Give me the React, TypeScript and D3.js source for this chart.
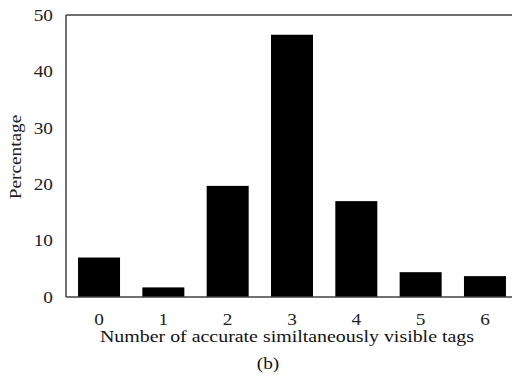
import React, { useRef, useEffect } from "react";
import * as d3 from "d3";

const categories = ["0", "1", "2", "3", "4", "5", "6"];
const percentages = [7.0, 1.7, 19.7, 46.5, 17.0, 4.4, 3.7];
const yTicks = [0, 10, 20, 30, 40, 50];

const App = () => {
  const svgRef = useRef<SVGSVGElement>(null);

  useEffect(() => {
    const width = 512;
    const height = 376;
    const margin = { top: 15, right: -6, bottom: 79, left: 66 };
    const innerW = width - margin.left - margin.right;
    const innerH = height - margin.top - margin.bottom;
    const font = "'Liberation Serif', 'Times New Roman', serif";
    const stretch = 1.17; // text in the original is a bit wide

    const svg = d3.select(svgRef.current);
    svg.selectAll("*").remove();
    svg.attr("width", width).attr("height", height);

    const g = svg
      .append("g")
      .attr("transform", `translate(${margin.left}, ${margin.top})`);

    const x = d3
      .scaleBand()
      .domain(categories)
      .range([0, innerW])
      .paddingInner(0.347)
      .paddingOuter(0.187);
    const y = d3.scaleLinear().domain([0, 50]).range([innerH, 0]);

    // bars
    g.selectAll(".bar")
      .data(percentages)
      .enter()
      .append("rect")
      .attr("class", "bar")
      .attr("x", (_d, i) => x(categories[i]) as number)
      .attr("y", (d) => y(d))
      .attr("width", x.bandwidth())
      .attr("height", (d) => innerH - y(d))
      .attr("fill", "#000");

    // frame lines: left, top, bottom
    const lineColor = "#404040";
    g.append("line")
      .attr("x1", 0).attr("x2", 0).attr("y1", 0).attr("y2", innerH)
      .attr("stroke", lineColor).attr("stroke-width", 1.5);
    g.append("line")
      .attr("x1", 0).attr("x2", innerW).attr("y1", 0).attr("y2", 0)
      .attr("stroke", lineColor).attr("stroke-width", 1.5);
    g.append("line")
      .attr("x1", 0).attr("x2", innerW).attr("y1", innerH).attr("y2", innerH)
      .attr("stroke", lineColor).attr("stroke-width", 1.5);

    // y tick labels
    g.selectAll(".ytick")
      .data(yTicks)
      .enter()
      .append("text")
      .attr("transform", (d) => `translate(-13, ${y(d)}) scale(${stretch}, 1)`)
      .attr("dy", "0.35em")
      .attr("text-anchor", "end")
      .attr("font-family", font)
      .attr("font-size", 16.5)
      .attr("fill", "#222")
      .text((d) => d);

    // x tick labels
    g.selectAll(".xtick")
      .data(categories)
      .enter()
      .append("text")
      .attr(
        "transform",
        (d) =>
          `translate(${(x(d) as number) + x.bandwidth() / 2}, ${innerH + 28}) scale(${stretch}, 1)`
      )
      .attr("text-anchor", "middle")
      .attr("font-family", font)
      .attr("font-size", 16.5)
      .attr("fill", "#222")
      .text((d) => d);

    // axis titles
    svg.append("text")
      .attr("x", 100)
      .attr("y", 342)
      .attr("textLength", 374)
      .attr("lengthAdjust", "spacingAndGlyphs")
      .attr("font-family", font)
      .attr("font-size", 16.5)
      .attr("fill", "#111")
      .text("Number  of accurate similtaneously visible tags");

    svg.append("text")
      .attr("transform", `translate(268, 369) scale(${stretch}, 1)`)
      .attr("text-anchor", "middle")
      .attr("font-family", font)
      .attr("font-size", 16.5)
      .attr("fill", "#111")
      .text("(b)");

    svg.append("text")
      .attr("transform", `translate(21, 157) rotate(-90) scale(${stretch}, 1)`)
      .attr("text-anchor", "middle")
      .attr("font-family", font)
      .attr("font-size", 16.5)
      .attr("fill", "#222")
      .text("Percentage");
  }, []);

  return (
    <svg
      ref={svgRef}
      style={{ position: "absolute", left: 0, top: 0, display: "block" }}
    ></svg>
  );
};

export default App;
